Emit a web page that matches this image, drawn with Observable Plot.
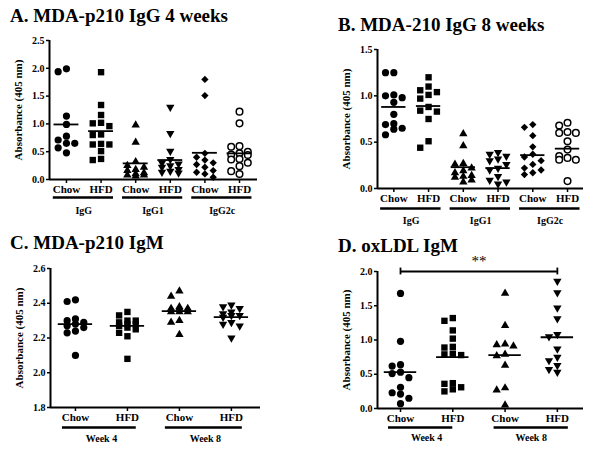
<!DOCTYPE html>
<html><head><meta charset="utf-8">
<script src="https://cdn.jsdelivr.net/npm/d3@7"></script>
<script src="https://cdn.jsdelivr.net/npm/@observablehq/plot@0.6"></script>
<style>
body{margin:0;background:#fff;width:600px;height:463px;position:relative;overflow:hidden;font-family:"Liberation Serif","Times New Roman",serif;}
.title{position:absolute;font-weight:bold;font-size:19px;white-space:nowrap;line-height:1;color:#000;z-index:2;}
.panel{position:absolute;z-index:1;}
</style></head><body>
<div class="title" style="left:10px;top:6px">A. MDA-p210 IgG 4 weeks</div>
<div class="title" style="left:338px;top:15px">B. MDA-210 IgG 8 weeks</div>
<div class="title" style="left:10px;top:233px">C. MDA-p210 IgM</div>
<div class="title" style="left:338px;top:236px">D. oxLDL IgM</div>
<div class="panel" id="pA" style="left:0px;top:30px"></div>
<div class="panel" id="pB" style="left:300px;top:40px"></div>
<div class="panel" id="pC" style="left:0px;top:258px"></div>
<div class="panel" id="pD" style="left:300px;top:250px"></div>
<script>
// ---------- data ----------
const yLabel = "Absorbance (405 nm)";
const catsAB = ["Chow","HFD","Chow","HFD","Chow","HFD"];
const groupsAB = ["IgG","IgG1","IgG2c"];
const catsCD = ["Chow","HFD","Chow","HFD"];
const groupsCD = ["Week 4","Week 8"];

// Panel A: MDA-p210 IgG 4 weeks
const aIgGChow   = [1.99,1.94,1.14,0.99,0.78,0.71,0.65,0.65,0.57,0.48];
const aIgGHFD    = [1.93,1.34,1.16,1.02,1.01,0.96,0.81,0.80,0.64,0.63,0.63,0.51,0.37,0.35];
const aIgG1Chow  = [0.98,0.67,0.32,0.25,0.22,0.18,0.16,0.12,0.10,0.08,0.08,0.06];
const aIgG1HFD   = [1.30,0.83,0.51,0.36,0.30,0.28,0.25,0.22,0.18,0.15,0.13,0.12];
const aIgG2cChow = [1.80,1.51,0.47,0.40,0.35,0.30,0.27,0.22,0.16,0.13,0.10,0.04];
const aIgG2cHFD  = [1.22,1.01,0.60,0.59,0.50,0.47,0.45,0.44,0.37,0.36,0.30,0.24,0.15,0.10];
const aMeans     = [0.99,0.87,0.29,0.35,0.48,0.47];
const aTicks     = [0,0.5,1,1.5,2,2.5];

// Panel B: MDA-210 IgG 8 weeks
const bIgGChow   = [1.25,1.25,1.01,1.00,0.98,0.93,0.80,0.70,0.69,0.65,0.64,0.58];
const bIgGHFD    = [1.20,1.10,1.06,1.04,1.01,0.97,0.88,0.84,0.83,0.75,0.51,0.44];
const bIgG1Chow  = [0.59,0.46,0.27,0.26,0.22,0.19,0.17,0.14,0.13,0.12,0.09,0.07];
const bIgG1HFD   = [0.39,0.37,0.35,0.32,0.30,0.26,0.22,0.20,0.13,0.09,0.07,0.05];
const bIgG2cChow = [0.69,0.66,0.57,0.45,0.37,0.34,0.30,0.26,0.22,0.20,0.17,0.15];
const bIgG2cHFD  = [0.71,0.68,0.61,0.60,0.60,0.51,0.42,0.35,0.33,0.31,0.31,0.08];
const bMeans     = [0.88,0.89,0.23,0.22,0.36,0.43];
const bTicks     = [0,0.5,1,1.5];

// Panel C: MDA-p210 IgM
const cW4Chow = [2.42,2.41,2.31,2.30,2.29,2.28,2.27,2.26,2.24,2.23,2.10];
const cW4HFD  = [2.35,2.33,2.30,2.30,2.29,2.28,2.28,2.27,2.26,2.25,2.23,2.21,2.08];
const cW8Chow = [2.47,2.44,2.38,2.37,2.37,2.37,2.35,2.35,2.35,2.30,2.29,2.22];
const cW8HFD  = [2.39,2.38,2.37,2.35,2.34,2.33,2.33,2.32,2.29,2.28,2.27,2.20];
const cMeans  = [2.28,2.27,2.355,2.32];
const cTicks  = [1.8,2.0,2.2,2.4,2.6];

// Panel D: oxLDL IgM
const dW4Chow = [1.68,0.98,0.64,0.62,0.53,0.51,0.45,0.31,0.23,0.21,0.15,0.07];
const dW4HFD  = [1.32,1.28,1.14,1.02,0.90,0.89,0.80,0.79,0.78,0.37,0.36,0.31,0.28,0.25];
const dW8Chow = [1.68,1.21,0.94,0.93,0.91,0.79,0.77,0.63,0.30,0.27,0.05];
const dW8HFD  = [1.86,1.69,1.47,1.31,1.08,1.05,0.87,0.75,0.70,0.63,0.57,0.53];
const dMeans  = [0.53,0.75,0.78,1.04];
const dTicks  = [0,0.5,1,1.5,2];
const dSig    = {from: 0, to: 3, y: 2.0, text: "**"};

// ---------- symbols ----------
const sqrt3 = Math.sqrt(3);
const triDown = {draw(ctx, size){ const y = -Math.sqrt(size/(sqrt3*3)); ctx.moveTo(0,-y*2); ctx.lineTo(-sqrt3*y,y); ctx.lineTo(sqrt3*y,y); ctx.closePath(); }};
const styleAB = [
  {symbol:"circle", r:3.6, fill:"black"},
  {symbol:"square", r:3.6, fill:"black"},
  {symbol:"triangle", r:3.1, fill:"black"},
  {symbol:triDown, r:3.1, fill:"black"},
  {symbol:"diamond2", r:3.3, fill:"black"},
  {symbol:"circle", r:3.3, fill:"white", stroke:"black", strokeWidth:1.5}
];
const styleCD = styleAB.slice(0,4);

// deterministic 3-column swarm layout
function swarm(values, pxPerUnit, slotW, minDist){
  const idx = values.map((v,i)=>i).sort((a,b)=>values[b]-values[a]);
  const placed = []; const offs = new Array(values.length);
  const order = [0,-1,1];
  for (const i of idx){
    const py = values[i]*pxPerUnit;
    let best = 0, bestD = -1;
    for (const s of order){
      const ds = placed.filter(p=>p.slot===s).map(p=>Math.abs(p.py-py));
      const d = ds.length ? Math.min(...ds) : Infinity;
      if (d >= minDist){ best = s; bestD = Infinity; break; }
      if (d > bestD){ bestD = d; best = s; }
    }
    placed.push({py, slot:best}); offs[i] = best*slotW;
  }
  return offs;
}

function panel(o){
  const plotH = o.height - o.mt - o.mb;
  const ppu = plotH/(o.yDomain[1]-o.yDomain[0]);
  const ymin = o.yDomain[0];
  const marks = [];
  o.series.forEach((vals,i)=>{
    const offs = swarm(vals, ppu, o.slotW, 6.5);
    const rows = vals.map((v,j)=>({x:i+offs[j], y:v}));
    marks.push(Plot.dot(rows, {x:"x", y:"y", ...o.styles[i]}));
  });
  const meanRows = o.means.map((m,i)=>({x1:i-o.meanHalf, x2:i+o.meanHalf, y:m}));
  marks.push(Plot.ruleY(meanRows, {x1:"x1", x2:"x2", y:"y", strokeWidth:1.8}));
  marks.push(Plot.axisY({ticks:o.yTicks, tickFormat:d=>d.toFixed(1), tickSize:3, tickPadding:2, fontSize:10, fontWeight:"bold", label:null, strokeWidth:1.5}));
  marks.push(Plot.axisX({ticks:d3.range(o.cats.length), tickFormat:i=>o.cats[i], tickSize:4, tickPadding:2, fontSize:11, fontWeight:"bold", label:null, strokeWidth:1.5}));
  marks.push(Plot.ruleX([o.xDomain[0]], {strokeWidth:2}));
  marks.push(Plot.ruleY([ymin], {strokeWidth:2}));
  const gRows = o.groups.map((g,k)=>({name:g, x1:2*k+o.spans[k][0], x2:2*k+1+o.spans[k][1], mid:2*k+0.5}));
  marks.push(Plot.ruleY(gRows, {x1:"x1", x2:"x2", y:()=>ymin, dy:o.barDy, strokeWidth:2.5}));
  marks.push(Plot.text(gRows, {x:"mid", y:()=>ymin, text:"name", dy:o.grpDy, fontSize:10, fontWeight:"bold"}));
  marks.push(Plot.text([yLabel], {frameAnchor:"left", textAnchor:"middle", text:d=>d, rotate:-90, dx:-31, fontSize:11, fontWeight:"bold"}));
  if (o.sig){
    const s = o.sig;
    marks.push(Plot.ruleY([s], {x1:"from", x2:"to", y:"y", strokeWidth:1.8}));
    marks.push(Plot.ruleX([s.from, s.to], {x:d=>d, y1:s.y-0.05, y2:s.y+0.05, strokeWidth:1.8}));
    marks.push(Plot.text([s], {x:d=>(d.from+d.to)/2, y:"y", text:"text", dy:-10, fontSize:15}));
  }
  return Plot.plot({
    width:o.width, height:o.height,
    marginTop:o.mt, marginBottom:o.mb, marginLeft:o.ml, marginRight:o.mr,
    x:{type:"linear", domain:o.xDomain},
    y:{type:"linear", domain:o.yDomain},
    style:{fontFamily:"'Liberation Serif','Times New Roman',serif", color:"black", background:"transparent", overflow:"visible"},
    marks
  });
}

document.getElementById("pA").append(panel({
  series:[aIgGChow,aIgGHFD,aIgG1Chow,aIgG1HFD,aIgG2cChow,aIgG2cHFD], means:aMeans, styles:styleAB,
  cats:catsAB, groups:groupsAB, spans:[[-0.38,0.36],[-0.38,0.36],[-0.38,0.36]],
  yDomain:[0,2.5], yTicks:aTicks, xDomain:[-0.49,5.52],
  width:300, height:190, mt:10, mb:41, ml:49, mr:43, slotW:0.24, meanHalf:0.36, barDy:18, grpDy:31
}));
document.getElementById("pB").append(panel({
  series:[bIgGChow,bIgGHFD,bIgG1Chow,bIgG1HFD,bIgG2cChow,bIgG2cHFD], means:bMeans, styles:styleAB,
  cats:catsAB, groups:groupsAB, spans:[[-0.38,0.36],[-0.38,0.36],[-0.38,0.36]],
  yDomain:[0,1.5], yTicks:bTicks, xDomain:[-0.47,5.46],
  width:300, height:190, mt:9, mb:42, ml:77, mr:17, slotW:0.24, meanHalf:0.35, barDy:20, grpDy:32
}));
document.getElementById("pC").append(panel({
  series:[cW4Chow,cW4HFD,cW8Chow,cW8HFD], means:cMeans, styles:styleCD,
  cats:catsCD, groups:groupsCD, spans:[[-0.25,0.17],[-0.27,0.21]],
  yDomain:[1.8,2.6], yTicks:cTicks, xDomain:[-0.48,3.56],
  width:300, height:200, mt:10, mb:51, ml:50, mr:40, slotW:0.16, meanHalf:0.33, barDy:20, grpDy:31
}));
document.getElementById("pD").append(panel({
  series:[dW4Chow,dW4HFD,dW8Chow,dW8HFD], means:dMeans, styles:styleCD,
  cats:catsCD, groups:groupsCD, spans:[[-0.23,0.0],[-0.21,0.21]], sig:dSig,
  yDomain:[0,2], yTicks:dTicks, xDomain:[-0.44,3.5],
  width:300, height:208, mt:21, mb:50, ml:77, mr:17, slotW:0.16, meanHalf:0.31, barDy:19, grpDy:29
}));
</script>
</body></html>
